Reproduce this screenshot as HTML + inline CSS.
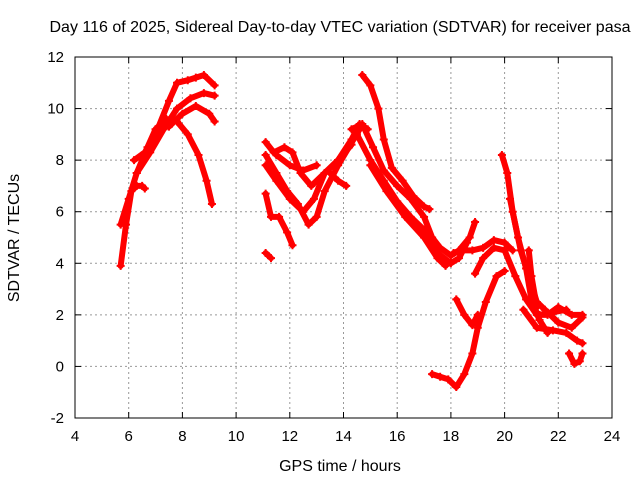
<!DOCTYPE html>
<html><head><meta charset="utf-8"><style>
body{margin:0;background:#fff;}
svg{display:block;font-family:"Liberation Sans",sans-serif;}
</style></head><body>
<svg id="chart" width="640" height="480">
<text x="340" y="32" text-anchor="middle" font-size="16">Day 116 of 2025, Sidereal Day-to-day VTEC variation (SDTVAR) for receiver pasa</text>
<text x="340" y="471" text-anchor="middle" font-size="16">GPS time / hours</text>
<text transform="translate(19,238) rotate(-90)" text-anchor="middle" font-size="16">SDTVAR / TECUs</text>
<g id="grid"></g><g id="ticks"></g><g id="marks"></g>
<rect x="75" y="57" width="537" height="361" fill="none" stroke="#000" stroke-width="1"/>
</svg>
<script>
const xTicks=[4,6,8,10,12,14,16,18,20,22,24];
const yTicks=[-2,0,2,4,6,8,10,12];
const s1=[[5.7,3.9],[5.9,5.5],[6.1,6.8],[6.3,7.0],[6.5,7.0],[6.6,6.9]];
const s2=[[5.7,5.5],[6.0,6.5],[6.3,7.5],[6.7,8.5],[7.0,9.2],[7.4,9.6],[7.8,9.5],[8.2,9.0],[8.6,8.2],[8.9,7.2],[9.1,6.3]];
const s3=[[6.2,8.0],[6.6,8.3],[7.0,9.0],[7.5,10.3],[7.8,11.0],[8.2,11.1],[8.5,11.2],[8.8,11.3],[9.2,10.9]];
const s4=[[6.3,7.5],[6.8,8.3],[7.3,9.2],[7.8,10.0],[8.3,10.4],[8.8,10.6],[9.2,10.5]];
const s5=[[7.5,9.3],[8.0,9.8],[8.5,10.1],[9.0,9.8],[9.2,9.5]];
const s6=[[11.1,4.4],[11.3,4.2]];
const s7=[[11.1,6.7],[11.3,5.8],[11.6,5.8],[11.9,5.2],[12.1,4.7]];
const s8=[[11.1,8.7],[11.4,8.3],[11.8,8.5],[12.1,8.3],[12.4,7.5],[12.8,7.0],[13.3,7.5],[13.8,8.0],[14.3,8.8],[14.6,9.4],[14.9,9.2]];
const s9=[[11.1,8.2],[11.5,7.5],[11.9,6.8],[12.3,6.3],[12.7,5.5],[13.0,5.8],[13.3,6.8],[13.8,7.8],[14.2,8.5],[14.6,9.2]];
const s10=[[11.1,7.8],[11.5,7.2],[12.0,6.5],[12.5,6.0],[12.9,6.5],[13.3,7.5],[13.8,8.0],[14.3,8.6]];
const s11=[[13.5,7.5],[13.8,7.2],[14.1,7.0]];
const s12=[[11.5,8.2],[12.0,7.8],[12.5,7.6],[13.0,7.8]];
const s13=[[14.7,11.3],[15.0,10.9],[15.3,10.0],[15.5,8.8],[15.8,7.7],[16.2,7.2],[16.6,6.6],[17.0,6.2],[17.2,6.1]];
const s14=[[14.3,9.2],[14.7,9.4],[15.1,8.5],[15.5,7.6],[16.0,7.0],[16.5,6.5],[17.0,5.8],[17.3,5.0],[17.6,4.6],[18.0,4.3],[18.3,4.5],[18.7,5.0],[18.9,5.6]];
const s15=[[14.5,9.0],[15.0,8.0],[15.5,7.2],[16.0,6.4],[16.5,5.8],[17.0,5.3],[17.5,4.4],[18.0,4.0],[18.3,4.2],[18.6,4.8]];
const s16=[[15.0,7.8],[15.6,6.8],[16.3,5.8],[17.0,5.0],[17.5,4.2],[17.8,3.9]];
const s17=[[18.1,4.4],[18.4,4.5],[18.8,4.5],[19.2,4.6],[19.6,4.9],[20.0,4.8],[20.3,4.5]];
const s18=[[17.3,-0.3],[17.6,-0.4],[17.9,-0.5],[18.2,-0.8],[18.5,-0.3],[18.8,0.5],[19.0,1.5],[19.3,2.5],[19.7,3.5],[20.0,3.7]];
const s19=[[18.2,2.6],[18.5,2.0],[18.8,1.6],[19.0,2.0]];
const s20=[[18.9,3.6],[19.2,4.2],[19.6,4.6],[20.0,4.5],[20.4,3.5],[20.8,2.6],[21.2,2.0],[21.6,2.0],[22.0,2.3],[22.5,2.0],[22.9,2.0]];
const s21=[[19.9,8.2],[20.1,7.5],[20.3,6.0],[20.6,4.5],[20.9,3.5],[21.2,2.5],[21.5,2.2],[22.0,1.7],[22.5,1.5],[22.9,1.9]];
const s22=[[20.2,6.5],[20.5,5.0],[20.8,3.8],[21.0,2.6],[21.3,1.8],[21.6,1.3]];
const s23=[[20.9,4.5],[21.0,3.5],[21.2,2.3]];
const s24=[[20.7,2.2],[21.2,1.5],[21.8,1.4],[22.3,1.3],[22.7,1.0],[22.9,0.9]];
const s25=[[22.4,0.5],[22.6,0.1],[22.8,0.2],[22.9,0.5]];
const s26=[[21.3,2.0],[21.8,2.1],[22.3,2.2]];
const series=[s1,s2,s3,s4,s5,s6,s7,s8,s9,s10,s11,s12,s13,s14,s15,s16,s17,s18,s19,s20,s21,s22,s23,s24,s25,s26];

const L=75,R=612,T=57,B=418,X0=4,X1=24,Y0=-2,Y1=12;
const xs=v=>L+(v-X0)/(X1-X0)*(R-L);
const ys=v=>B-(v-Y0)/(Y1-Y0)*(B-T);
const NS='http://www.w3.org/2000/svg';
const grid=document.getElementById('grid'),ticks=document.getElementById('ticks'),marks=document.getElementById('marks');
function mk(tag,attrs,parent){const e=document.createElementNS(NS,tag);for(const k in attrs)e.setAttribute(k,attrs[k]);parent.appendChild(e);return e;}
xTicks.forEach(v=>{
  const x=xs(v);
  if(v>X0&&v<X1){const g=mk('line',{x1:x,x2:x,y1:T,y2:B,stroke:'#999','stroke-dasharray':'2,3'},grid);
  
  }
  mk('line',{x1:x,x2:x,y1:B,y2:B-6,stroke:'#000'},ticks);
  mk('line',{x1:x,x2:x,y1:T,y2:T+6,stroke:'#000'},ticks);
  const t=mk('text',{x:x,y:B+23,'text-anchor':'middle','font-size':15},ticks);t.textContent=v;
  
  
});
yTicks.forEach(v=>{
  const y=ys(v);
  if(v>Y0&&v<Y1){const g=mk('line',{x1:L,x2:R,y1:y,y2:y,stroke:'#999','stroke-dasharray':'2,3'},grid);
  
  }
  mk('line',{x1:L,x2:L+6,y1:y,y2:y,stroke:'#000'},ticks);
  mk('line',{x1:R,x2:R-6,y1:y,y2:y,stroke:'#000'},ticks);
  const t=mk('text',{x:L-11,y:y+5,'text-anchor':'end','font-size':15},ticks);t.textContent=v;
  
  
});
series.forEach((s,i)=>{
  const p=mk('polyline',{points:s.map(d=>xs(d[0])+','+ys(d[1])).join(' '),fill:'none',stroke:'#f00','stroke-width':6,'stroke-linejoin':'round','stroke-linecap':'round'},marks);
  
  
  s.forEach(d=>{
    const x=xs(d[0]),y=ys(d[1]);
    const m=mk('path',{d:`M${x-4},${y}H${x+4}M${x},${y-4}V${y+4}`,stroke:'#f00','stroke-width':2},marks);
    
    
  });
});
</script>
</body></html>
